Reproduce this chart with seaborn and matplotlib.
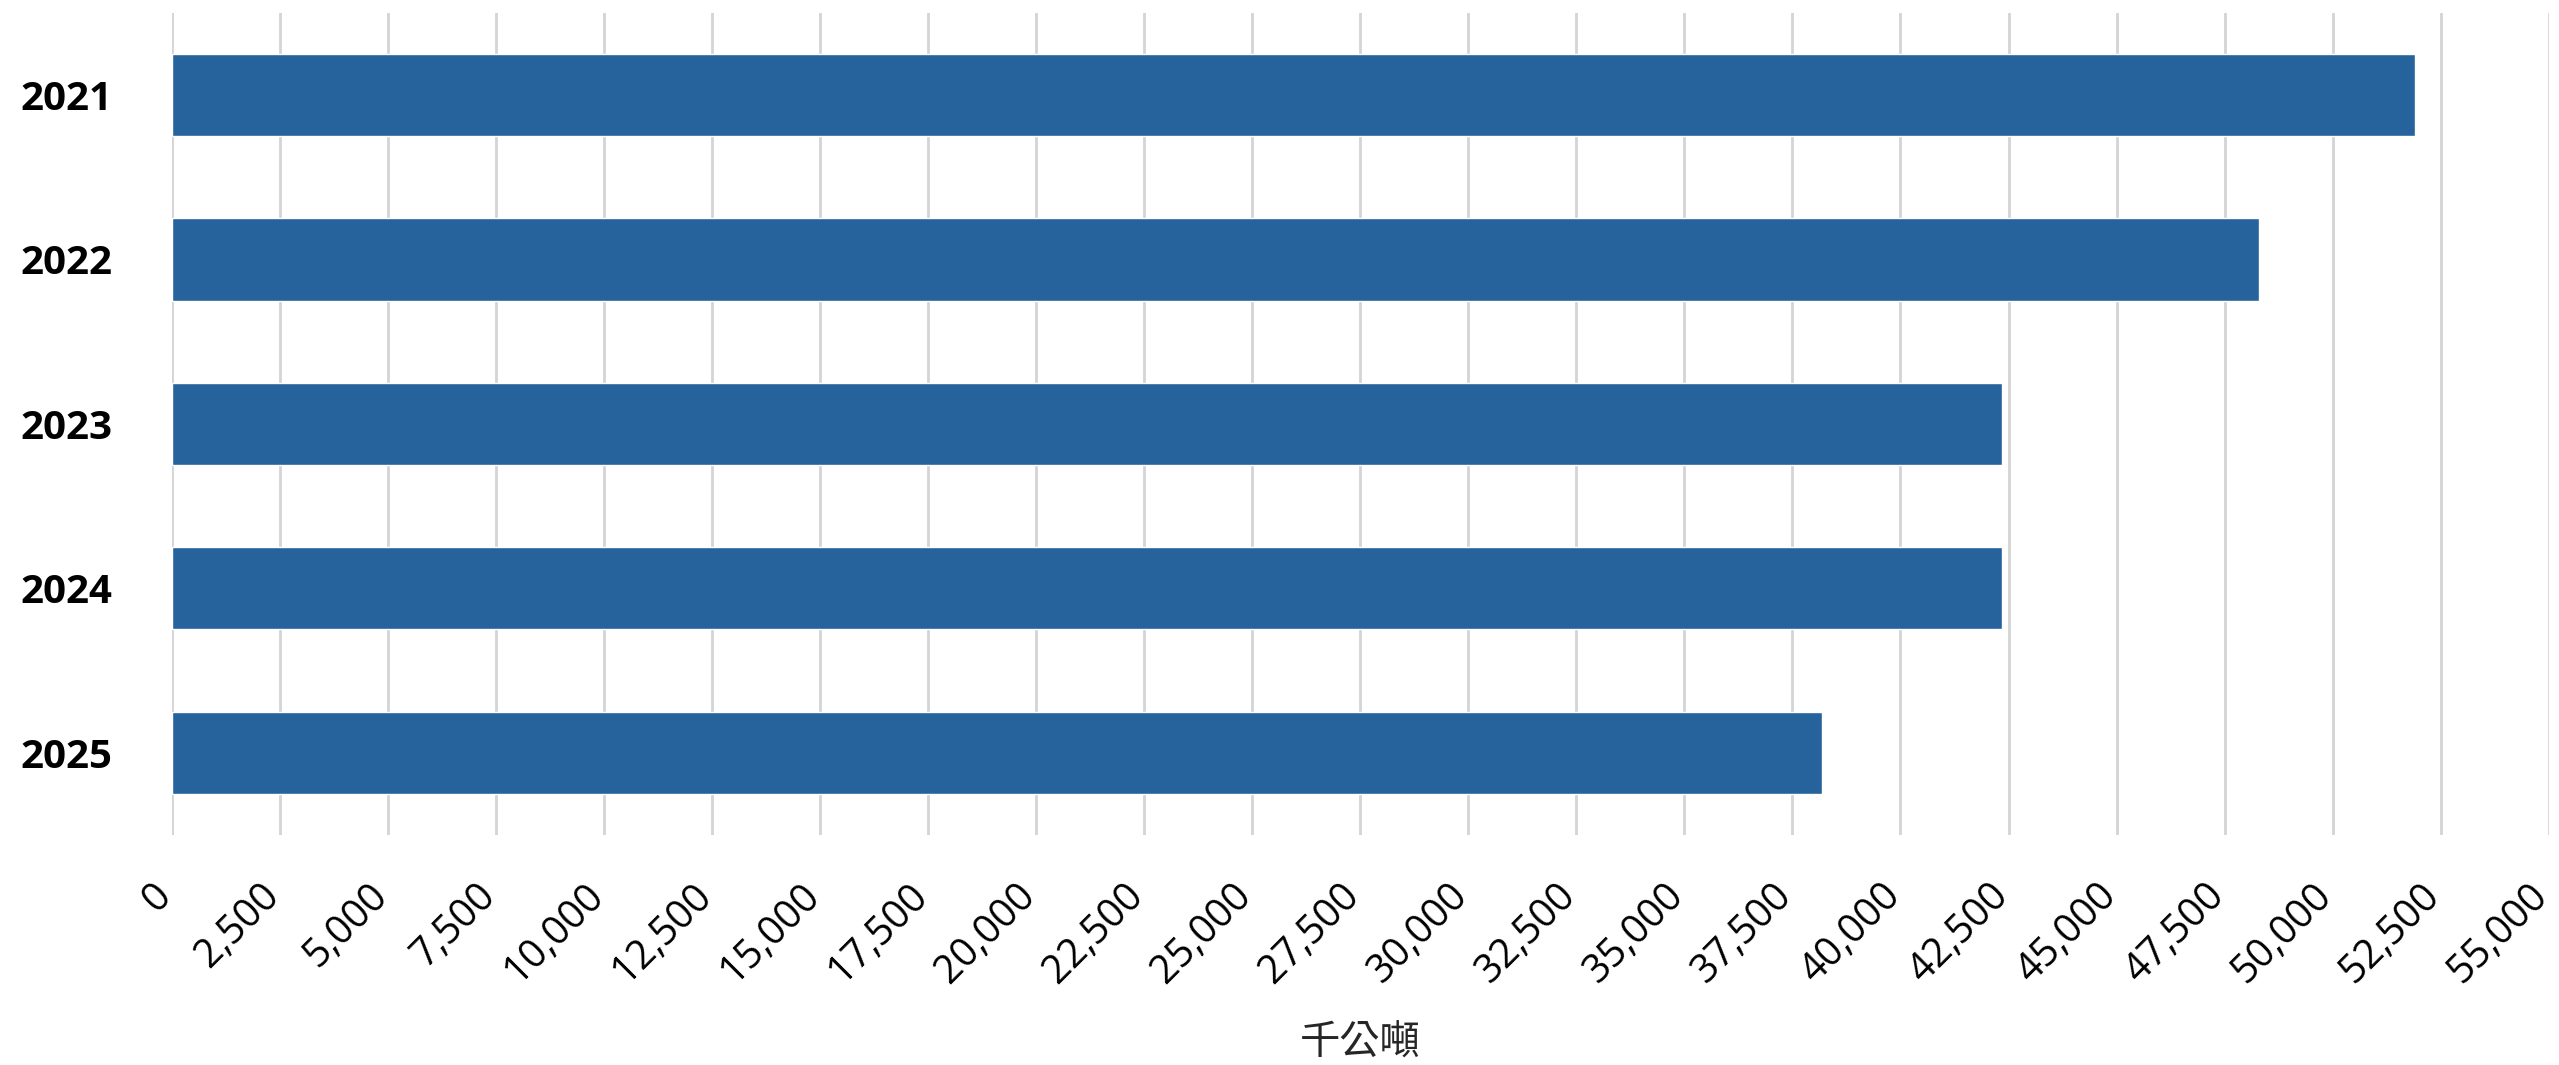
import matplotlib
matplotlib.use('Agg')
import matplotlib.pyplot as plt
import matplotlib.transforms as mtransforms
import seaborn as sns
from matplotlib.ticker import FuncFormatter, MultipleLocator

years = ['2021', '2022', '2023', '2024', '2025']
values = [51900, 48290, 42360, 42350, 38180]
x_label = '千公噸'

sns.set_style('white')
plt.rcParams['font.family'] = ['Open Sans', 'Noto Sans CJK TC', 'DejaVu Sans']

fig, ax = plt.subplots(figsize=(25.59, 10.65), dpi=100)
plt.subplots_adjust(left=0.0671, right=0.996, bottom=0.216, top=0.988)

sns.barplot(x=values, y=years, orient='h', color='#26629b', saturation=1,
            width=0.5, ax=ax, zorder=3)

ax.set_xlim(0, 55000)
ax.xaxis.set_major_locator(MultipleLocator(2500))
ax.xaxis.set_major_formatter(FuncFormatter(lambda v, p: f'{int(v):,}'))
ax.grid(False)
ax.xaxis.grid(True, color='#d4d4d4', linewidth=2, zorder=0)
ax.set_axisbelow(True)
for s in ax.spines.values():
    s.set_visible(False)

ax.set_yticks(range(len(years)), years, fontweight='bold')
ax.tick_params(axis='x', length=0, pad=29, labelsize=28.5, labelcolor='black')
ax.tick_params(axis='y', length=0, pad=43, labelsize=29, labelcolor='black')
# nudge the rotated labels a little to the right
shift = mtransforms.ScaledTranslation(0.08, 0, fig.dpi_scale_trans)
for lab in ax.get_xticklabels():
    lab.set_rotation(45)
    lab.set_ha('right')
    lab.set_transform(lab.get_transform() + shift)

ax.set_ylabel('')
ax.set_xlabel(x_label, fontsize=29, color='#262626', labelpad=24)

fig.savefig('out.png', dpi=100)
